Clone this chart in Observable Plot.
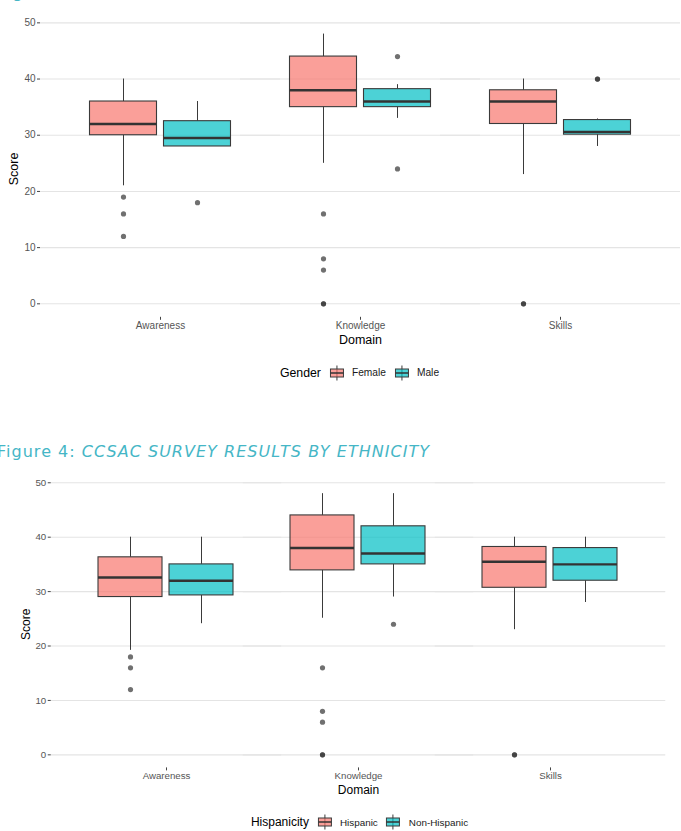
<!DOCTYPE html>
<html>
<head>
<meta charset="utf-8">
<script src="https://cdn.jsdelivr.net/npm/d3@7"></script>
<script src="https://cdn.jsdelivr.net/npm/@observablehq/plot@0.6"></script>
<style>
  html, body { margin: 0; padding: 0; background: #fff; }
  #page { position: relative; width: 681px; height: 831px; overflow: hidden; font-family: "Liberation Sans", Arial, sans-serif; }
  .chart { position: absolute; left: 0; }
  .chart svg { display: block; }
  .legend { position: absolute; display: flex; align-items: center; transform: translate(-50%, -50%); white-space: nowrap; color: #000; }
  .legend .lt { margin-right: 8px; }
  .legend .key { margin-right: 8px; display: block; }
  .legend .lab { margin-right: 8px; color: #1a1a1a; }
  #titles { position: absolute; left: 0; top: 0; pointer-events: none; }
  .shade { position: absolute; left: 14px; right: 0; height: 3px; background: linear-gradient(#eeeeee, #ffffff); }
</style>
</head>
<body>
<div id="page"></div>
<script>
// ---------------- data ----------------
const domains = ["Awareness", "Knowledge", "Skills"];
const yTicks = [0, 10, 20, 30, 40, 50];

// Figure 3: by gender (order: Awareness F, M, Knowledge F, M, Skills F, M)
const genders = ["Female", "Male"];
const genderWhiskerLow  = [21, 28, 25, 33, 23, 28];
const genderQ1          = [30, 28, 35, 35, 32, 30.1];
const genderMedian      = [32, 29.5, 38, 36, 36, 30.6];
const genderQ3          = [36, 32.5, 44, 38.2, 38, 32.7];
const genderWhiskerHigh = [40, 36, 48, 39, 40, 32.9];
const genderOutlierDomain = ["Awareness", "Awareness", "Awareness", "Awareness",
  "Knowledge", "Knowledge", "Knowledge", "Knowledge", "Knowledge", "Knowledge", "Knowledge",
  "Skills", "Skills", "Skills", "Skills"];
const genderOutlierGroup = ["Female", "Female", "Female", "Male",
  "Female", "Female", "Female", "Female", "Female", "Male", "Male",
  "Female", "Female", "Male", "Male"];
const genderOutlierValue = [19, 16, 12, 18,
  16, 8, 6, 0, 0, 44, 24,
  0, 0, 40, 40];

// Figure 4: by ethnicity (order: Awareness H, NH, Knowledge H, NH, Skills H, NH)
const ethnicities = ["Hispanic", "Non-Hispanic"];
const ethWhiskerLow  = [19.2, 24.1, 25.1, 29, 23, 28];
const ethQ1          = [29, 29.3, 33.9, 35, 30.7, 32];
const ethMedian      = [32.6, 32, 38, 37, 35.5, 35];
const ethQ3          = [36.3, 35, 44, 42, 38.2, 38];
const ethWhiskerHigh = [40, 40, 48, 48, 40, 40];
const ethOutlierDomain = ["Awareness", "Awareness", "Awareness",
  "Knowledge", "Knowledge", "Knowledge", "Knowledge", "Knowledge", "Knowledge",
  "Skills", "Skills"];
const ethOutlierGroup = ["Hispanic", "Hispanic", "Hispanic",
  "Hispanic", "Hispanic", "Hispanic", "Hispanic", "Hispanic", "Non-Hispanic",
  "Hispanic", "Hispanic"];
const ethOutlierValue = [18, 16, 12,
  16, 8, 6, 0, 0, 24,
  0, 0];

const groupColors = ["#F8766D", "#00BFC4"];

// ---------------- helpers ----------------
function buildRows(groups, lo, q1, med, q3, hi) {
  const rows = [];
  domains.forEach((d, i) => groups.forEach((g, j) => {
    const k = i * groups.length + j;
    rows.push({domain: d, group: g, lo: lo[k], q1: q1[k], med: med[k], q3: q3[k], hi: hi[k]});
  }));
  return rows;
}
function buildOutliers(ds, gs, vs) {
  return vs.map((v, i) => ({domain: ds[i], group: gs[i], value: v}));
}

function boxChart(o) {
  const outerPad = 0.1;
  const step = (681 - o.ml - o.mr) / (domains.length + 2 * outerPad);
  const ext = step * outerPad; // panel expansion beyond the outer facets
  return Plot.plot({
    width: 681, height: o.height,
    marginTop: o.mt, marginBottom: o.mb, marginLeft: o.ml, marginRight: o.mr,
    style: {fontFamily: '"Liberation Sans", Arial, sans-serif', background: "white", overflow: "visible"},
    fx: {domain: domains, paddingInner: 0, paddingOuter: outerPad, label: null},
    x: {domain: o.groups, paddingInner: 0.0933, paddingOuter: 0.38, axis: null},
    y: {domain: [-2.4, 50.4], axis: null},
    color: {domain: o.groups, range: groupColors},
    marks: [
      Plot.ruleY(yTicks, {stroke: "#e4e4e4", strokeWidth: 1.1, insetLeft: -ext, insetRight: -ext}),
      Plot.axisY(yTicks, {anchor: "left", dx: -ext, tickSize: 3, tickPadding: 2, fontSize: o.fs, color: "#555", stroke: "#444", label: null}),
      Plot.axisFx({anchor: "bottom", tickSize: 3, tickPadding: o.tp, fontSize: o.fs, color: "#555", stroke: "#444", label: null}),
      Plot.ruleX(o.rows, {fx: "domain", x: "group", y1: "q3", y2: "hi", stroke: "#3a3a3a", strokeWidth: 1}),
      Plot.ruleX(o.rows, {fx: "domain", x: "group", y1: "lo", y2: "q1", stroke: "#3a3a3a", strokeWidth: 1}),
      Plot.barY(o.rows, {fx: "domain", x: "group", y1: "q1", y2: "q3", fill: "group", fillOpacity: 0.7, stroke: "#3a3a3a", strokeWidth: 1.1}),
      Plot.tickY(o.rows, {fx: "domain", x: "group", y: "med", stroke: "#333", strokeWidth: 2.4}),
      Plot.dot(o.outliers, {fx: "domain", x: "group", y: "value", r: 2.6, fill: "#333", fillOpacity: 0.7, stroke: "none"}),
      Plot.text(["Domain"], {facet: "super", frameAnchor: "bottom", lineAnchor: "middle", dy: o.domDy, fontSize: o.tfs, fill: "#000"}),
      // the super-facet frame starts at the first facet (marginLeft + ext)
      Plot.text(["Score"], {facet: "super", frameAnchor: "left", textAnchor: "middle", lineAnchor: "middle", rotate: -90,
        dx: o.scoreX - (o.ml + ext), fontSize: o.tfs, fill: "#000"})
    ]
  });
}

function keyIcon(color) {
  const ns = "http://www.w3.org/2000/svg";
  const s = document.createElementNS(ns, "svg");
  s.setAttribute("width", 15); s.setAttribute("height", 16);
  s.setAttribute("class", "key");
  s.innerHTML = `<line x1="7.5" x2="7.5" y1="0.5" y2="15.5" stroke="#3a3a3a" stroke-width="1"/>
    <rect x="1" y="4" width="13" height="8" fill="${color}" fill-opacity="0.7" stroke="#3a3a3a" stroke-width="1"/>
    <line x1="1" x2="14" y1="8" y2="8" stroke="#333" stroke-width="1.6"/>`;
  return s;
}

function legend(title, groups, cx, cy, tfs, lfs) {
  const div = document.createElement("div");
  div.className = "legend";
  div.style.left = cx + "px";
  div.style.top = cy + "px";
  const t = document.createElement("span");
  t.className = "lt"; t.textContent = title; t.style.fontSize = tfs + "px";
  div.appendChild(t);
  groups.forEach((g, i) => {
    div.appendChild(keyIcon(groupColors[i]));
    const l = document.createElement("span");
    l.className = "lab"; l.textContent = g; l.style.fontSize = lfs + "px";
    if (i === groups.length - 1) l.style.marginRight = "0";
    div.appendChild(l);
  });
  return div;
}

// ---------------- layout ----------------
const page = document.getElementById("page");

const topChart = document.createElement("div");
topChart.className = "chart"; topChart.style.top = "0px";
topChart.appendChild(boxChart({
  groups: genders,
  rows: buildRows(genders, genderWhiskerLow, genderQ1, genderMedian, genderQ3, genderWhiskerHigh),
  outliers: buildOutliers(genderOutlierDomain, genderOutlierGroup, genderOutlierValue),
  height: 345, mt: 20.1, mb: 28.2, ml: 39.5, mr: 1.5,
  fs: 10, tfs: 12.5, tp: 1.5, domDy: 22.5, scoreX: 13
}));
page.appendChild(topChart);
page.appendChild(legend("Gender", genders, 359.5, 372.7, 12.3, 10.2));

const shade = document.createElement("div");
shade.className = "shade"; shade.style.top = "475px";
page.appendChild(shade);

const bottomChart = document.createElement("div");
bottomChart.className = "chart"; bottomChart.style.top = "470px";
bottomChart.appendChild(boxChart({
  groups: ethnicities,
  rows: buildRows(ethnicities, ethWhiskerLow, ethQ1, ethMedian, ethQ3, ethWhiskerHigh),
  outliers: buildOutliers(ethOutlierDomain, ethOutlierGroup, ethOutlierValue),
  height: 330, mt: 10.1, mb: 32.6, ml: 50, mr: 14.6,
  fs: 9.7, tfs: 12, tp: 1.5, domDy: 21.8, scoreX: 24.5
}));
page.appendChild(bottomChart);
page.appendChild(legend("Hispanicity", ethnicities, 359.5, 822, 12, 9.9));

// figure titles (as SVG text for exact baselines)
const ns = "http://www.w3.org/2000/svg";
const tsvg = document.createElementNS(ns, "svg");
tsvg.setAttribute("id", "titles");
tsvg.setAttribute("width", 681); tsvg.setAttribute("height", 831);
tsvg.innerHTML = `
  <text x="-3" y="-2" font-family="'DejaVu Sans', 'Open Sans', sans-serif" font-size="16" fill="#45b6c6" textLength="433" lengthAdjust="spacing">Figure 3: <tspan font-style="italic">CCSAC SURVEY RESULTS BY GENDER</tspan></text>
  <text x="-3" y="457.3" font-family="'DejaVu Sans', 'Open Sans', sans-serif" font-size="16" fill="#45b6c6" textLength="432" lengthAdjust="spacing">Figure 4: <tspan font-style="italic">CCSAC SURVEY RESULTS BY ETHNICITY</tspan></text>`;
page.appendChild(tsvg);
</script>
</body>
</html>
